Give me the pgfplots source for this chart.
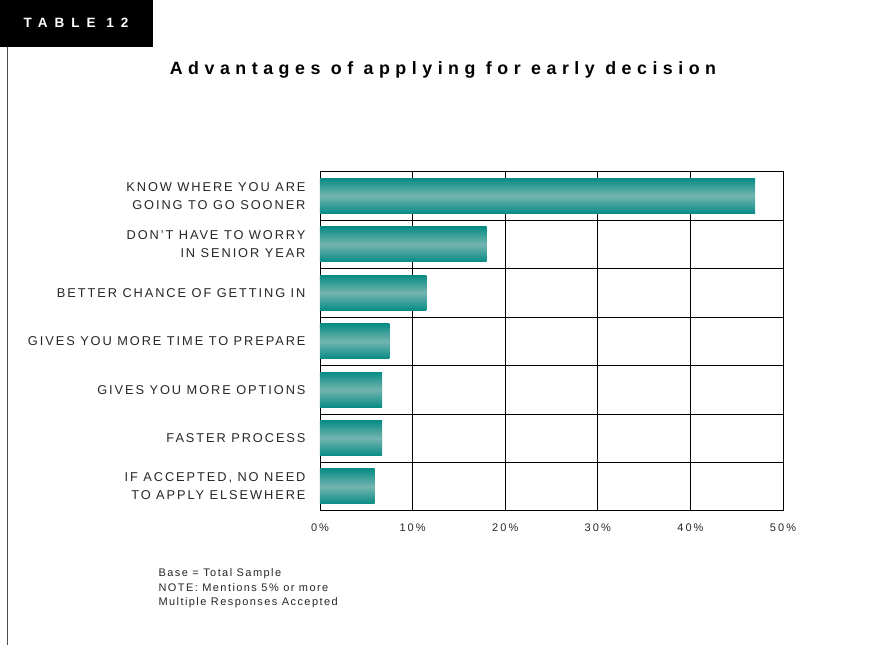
\documentclass[border=0pt]{standalone}
\usepackage{fontspec}
\setmainfont{Liberation Sans}
\newfontfamily\lblfont[LetterSpace=15]{Liberation Sans}
\newfontfamily\ticfont[LetterSpace=19]{Liberation Sans}
\newfontfamily\titlefont[LetterSpace=31]{Liberation Sans}
\newfontfamily\tabfont[LetterSpace=52]{Liberation Sans}
\newfontfamily\notefont[LetterSpace=13]{Liberation Sans}
\usepackage{pgfplots}
\pgfplotsset{compat=1.18}
\definecolor{tealedge}{RGB}{8,140,132}
\definecolor{tealmid}{RGB}{115,180,176}
\pgfplotsset{tealbar/.style={xbar, bar width=35pt, bar shift=0pt, draw=none,
  top color=tealedge, bottom color=tealedge, middle color=tealmid}}
\begin{document}
\begin{tikzpicture}
\useasboundingbox (0,0) rectangle (873pt,-645pt);
\fill[black] (0,0) rectangle (153pt,-47pt);
\node[text=white, font=\tabfont\bfseries\fontsize{13.5}{15}\selectfont] at (76pt,-23pt) {TABLE 12};
\draw[black!70, line width=0.8pt] (7pt,-47pt) -- (7pt,-645pt);
\node[font=\titlefont\bfseries\fontsize{17.8}{20}\selectfont] at (443pt,-70pt) {Advantages of applying for early decision};
\begin{axis}[
  at={(320pt,-510.7pt)}, anchor=south west,
  scale only axis, width=463pt, height=339pt,
  xmin=0, xmax=50, ymin=-0.5, ymax=6.5,
  y dir=reverse,
  xtick={0,10,20,30,40,50},
  xticklabels={0\%,10\%,20\%,30\%,40\%,50\%},
  ytick={0,...,6},
  yticklabels={{KNOW WHERE YOU ARE\\GOING TO GO SOONER},{DON’T HAVE TO WORRY\\IN SENIOR YEAR},{BETTER CHANCE OF GETTING IN},{GIVES YOU MORE TIME TO PREPARE},{GIVES YOU MORE OPTIONS},{FASTER PROCESS},{IF ACCEPTED, NO NEED\\TO APPLY ELSEWHERE}},
  minor ytick={0.5,1.5,...,5.5},
  yminorgrids=true, xmajorgrids=true, ymajorgrids=false,
  grid style={black, line width=0.7pt},
  minor grid style={black, line width=0.7pt},
  axis line style={black, line width=0.8pt},
  major tick length=0pt, minor tick length=0pt,
  yticklabel style={align=right, font=\lblfont\fontsize{12.8}{18}\selectfont, xshift=-11pt, text=black!85},
  xticklabel style={font=\ticfont\fontsize{11}{13}\selectfont, yshift=-10pt, text=black!85},
]
\addplot[tealbar] coordinates {(47,0)};
\addplot[tealbar] coordinates {(18,1)};
\addplot[tealbar] coordinates {(11.5,2)};
\addplot[tealbar] coordinates {(7.5,3)};
\addplot[tealbar] coordinates {(6.7,4)};
\addplot[tealbar] coordinates {(6.7,5)};
\addplot[tealbar] coordinates {(5.9,6)};
\end{axis}
\node[anchor=north west, align=left, font=\notefont\fontsize{11}{14.5}\selectfont, text=black!85] at (155pt,-565pt) {Base = Total Sample\\NOTE: Mentions 5\% or more\\Multiple Responses Accepted};
\end{tikzpicture}
\end{document}
